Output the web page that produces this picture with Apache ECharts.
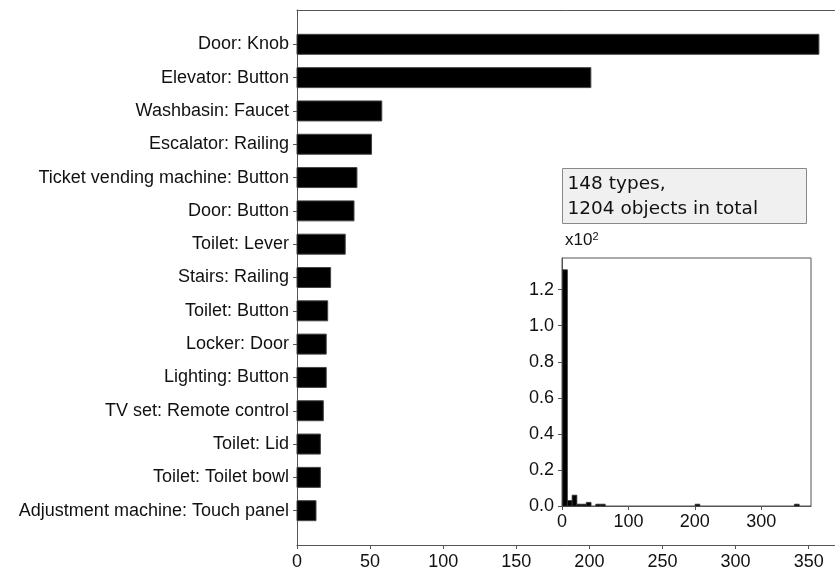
<!DOCTYPE html>
<html>
<head>
<meta charset="utf-8">
<script src="https://cdn.jsdelivr.net/npm/echarts@6/dist/echarts.min.js"></script>
<style>
  html, body { margin: 0; padding: 0; background: #fff; }
  #chart { width: 835px; height: 571px; }
</style>
</head>
<body>
<div id="chart"></div>
<script>
// object types, most frequent first
const categories = [
  'Door: Knob', 'Elevator: Button', 'Washbasin: Faucet', 'Escalator: Railing',
  'Ticket vending machine: Button', 'Door: Button', 'Toilet: Lever', 'Stairs: Railing',
  'Toilet: Button', 'Locker: Door', 'Lighting: Button', 'TV set: Remote control',
  'Toilet: Lid', 'Toilet: Toilet bowl', 'Adjustment machine: Touch panel'
]
const counts = [357, 201, 58, 51, 41, 39, 33, 23, 21, 20, 20, 18, 16, 16, 13]

// histogram of objects per type (50 bins from 1 to 357)
const histStart = 1
const histBinWidth = 7.12
const histCounts = [
  131, 3, 6, 1, 1, 2, 0, 1, 1, 0,
  0, 0, 0, 0, 0, 0, 0, 0, 0, 0,
  0, 0, 0, 0, 0, 0, 0, 0, 1, 0,
  0, 0, 0, 0, 0, 0, 0, 0, 0, 0,
  0, 0, 0, 0, 0, 0, 0, 0, 0, 1
]

const noteText = '148 types,\n1204 objects in total'

const labelFont = { fontFamily: 'Liberation Sans, Arial, sans-serif', fontSize: 18, color: '#111' }
const axisColor = '#555'

const chart = echarts.init(document.getElementById('chart'))

chart.setOption({
  backgroundColor: '#fff',
  animation: false,
  grid: [
    { left: 297, top: 10, width: 548, height: 535, show: false, outerBoundsMode: 'none' },
    { left: 562, top: 258, width: 249, height: 248, show: true, borderColor: axisColor, borderWidth: 1, backgroundColor: '#fff', outerBoundsMode: 'none' }
  ],
  xAxis: [
    {
      type: 'value', gridIndex: 0, min: 0, max: 374.85, interval: 50,
      axisLine: { onZero: false, lineStyle: { color: axisColor } },
      axisTick: { show: true, length: 4, lineStyle: { color: axisColor } },
      axisLabel: Object.assign({ margin: 8, showMaxLabel: false }, labelFont),
      splitLine: { show: false }
    },
    {
      type: 'value', gridIndex: 1, min: 0, max: 374.85, interval: 100,
      axisLine: { onZero: false, lineStyle: { color: axisColor } },
      axisTick: { show: true, length: 4, lineStyle: { color: axisColor } },
      axisLabel: Object.assign({ margin: 7, showMaxLabel: false }, labelFont),
      splitLine: { show: false }
    },
    {
      // top frame line of the main plot
      type: 'value', gridIndex: 0, position: 'top', min: 0, max: 374.85,
      axisLine: { onZero: false, lineStyle: { color: axisColor } },
      axisTick: { show: false },
      axisLabel: { show: false },
      splitLine: { show: false }
    }
  ],
  yAxis: [
    {
      type: 'value', gridIndex: 0, inverse: true, min: -1.03, max: 15.03,
      axisLine: { show: true, onZero: false, lineStyle: { color: axisColor } },
      axisTick: { show: true, length: 4, customValues: categories.map((c, i) => i), lineStyle: { color: axisColor } },
      axisLabel: Object.assign({
        margin: 8,
        customValues: categories.map((c, i) => i),
        formatter: v => categories[Math.round(v)] || ''
      }, labelFont),
      splitLine: { show: false }
    },
    {
      type: 'value', gridIndex: 1, min: 0, max: 137.55, interval: 20,
      name: 'x10{s|2}',
      nameLocation: 'end',
      nameGap: 8,
      nameTextStyle: {
        align: 'left', verticalAlign: 'bottom',
        fontFamily: 'Liberation Sans, Arial, sans-serif', fontSize: 17, color: '#111',
        padding: [0, 0, 0, 3],
        rich: { s: { fontSize: 11, verticalAlign: 'top', padding: [0, 0, 8, 0], fontFamily: 'Liberation Sans, Arial, sans-serif', color: '#111' } }
      },
      axisLine: { show: true, onZero: false, lineStyle: { color: axisColor } },
      axisTick: { show: true, length: 4, lineStyle: { color: axisColor } },
      axisLabel: Object.assign({
        margin: 8, showMaxLabel: false,
        formatter: v => (v / 100).toFixed(1)
      }, labelFont),
      splitLine: { show: false }
    }
  ],
  series: [
    {
      type: 'custom',
      xAxisIndex: 0,
      yAxisIndex: 0,
      encode: { x: 0, y: 1 },
      data: counts.map((v, i) => [v, i]),
      renderItem(params, api) {
        const start = api.coord([0, api.value(1)])
        const end = api.coord([api.value(0), api.value(1)])
        const h = api.size([0, 0.6])[1]
        return {
          type: 'rect',
          shape: { x: start[0], y: start[1] - h / 2, width: end[0] - start[0], height: h },
          style: { fill: '#000', stroke: '#444', lineWidth: 1 }
        }
      }
    },
    {
      type: 'custom',
      xAxisIndex: 1,
      yAxisIndex: 1,
      encode: { x: [0, 1], y: 2 },
      data: histCounts.map((c, i) => [histStart + i * histBinWidth, histStart + (i + 1) * histBinWidth, c]).filter(d => d[2] > 0),
      renderItem(params, api) {
        const p0 = api.coord([api.value(0), 0])
        const p1 = api.coord([api.value(1), api.value(2)])
        return {
          type: 'rect',
          shape: { x: p0[0], y: p1[1], width: p1[0] - p0[0], height: p0[1] - p1[1] },
          style: { fill: '#000', stroke: '#333', lineWidth: 0.8 }
        }
      }
    }
  ],
  graphic: [
    {
      type: 'group',
      left: 562,
      top: 168,
      children: [
        {
          type: 'rect',
          shape: { x: 0, y: 0, width: 244, height: 55 },
          style: { fill: '#f0f0f0', stroke: '#888', lineWidth: 1 }
        },
        {
          type: 'text',
          x: 5,
          y: 3,
          style: {
            text: noteText,
            fontFamily: 'DejaVu Sans, sans-serif',
            fontSize: 18.5,
            lineHeight: 25,
            fill: '#111'
          }
        }
      ]
    }
  ]
})

window.onresize = () => {
  chart.resize()
}
</script>
</body>
</html>
